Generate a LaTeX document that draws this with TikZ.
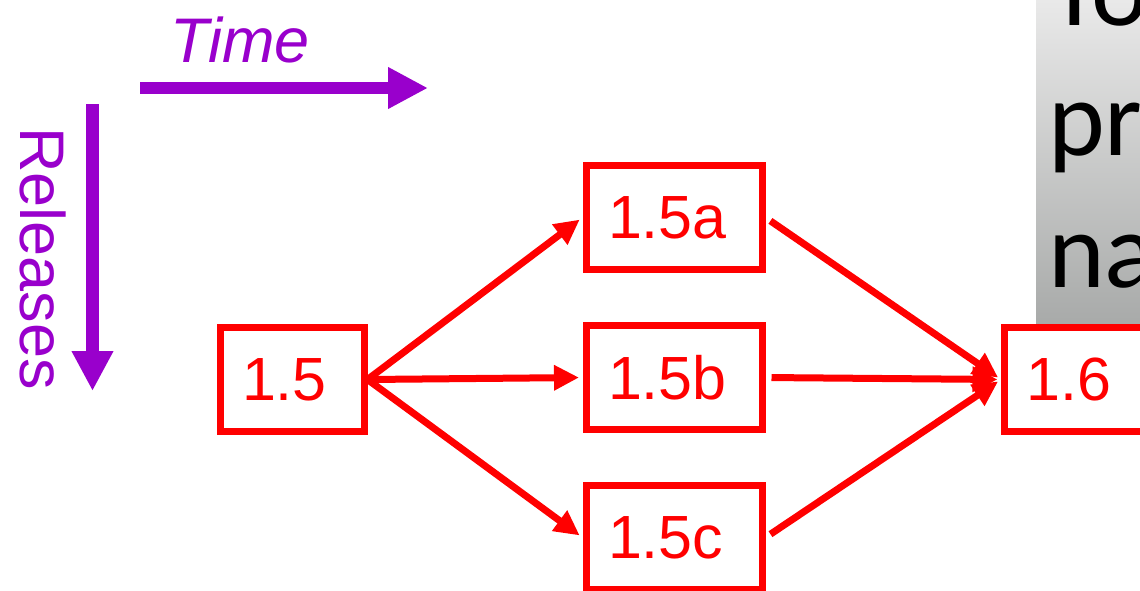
\documentclass[tikz,border=0pt]{standalone}
\usepackage{fontspec}
\setmainfont{Liberation Sans}
\newfontfamily\slidefont{Carlito}
\usetikzlibrary{arrows.meta}
\definecolor{relpurple}{HTML}{9900CC}
\definecolor{slidetop}{RGB}{233,233,233}
\definecolor{slidebot}{RGB}{167,169,168}

\begin{document}
\begin{tikzpicture}[x=1pt,y=-1pt,
  relbox/.style={draw=red,line width=7pt,text=red,inner xsep=22pt,inner ysep=0pt,
    minimum height=104pt,text width=#1,align=left,font=\fontsize{61}{61}\selectfont},
  relarrow/.style={red,line width=7pt,shorten >=3.5pt,-{Triangle[length=25pt,width=24pt]}},
  axis/.style={relpurple,line width=12.5pt,-{Triangle[length=40pt,width=39pt]}},
  axislabel/.style={relpurple,inner sep=0pt,anchor=base west,font=\fontsize{63}{63}\selectfont}]
  \useasboundingbox (0,0) rectangle (1140,590);
  \clip (0,0) rectangle (1140,590);
  % slide text behind
  \shade[top color=slidetop,bottom color=slidebot] (1036,0) rectangle (1140,330);
  \foreach \w/\y in {To/25,pr/155,na/287}
    \node[anchor=base west,inner sep=0pt,font=\slidefont\fontsize{108}{108}\selectfont] (txt-\w) at (1048,\y) {\w};
  % axes
  \coordinate (time-from) at (140,88);
  \coordinate (time-to) at (428,88);
  \coordinate (rel-from) at (92.5,104);
  \coordinate (rel-to) at (92.5,391);
  \draw[axis] (time-from) -- (time-to);
  \draw[axis] (rel-from) -- (rel-to);
  \node[axislabel,font={\itshape\fontsize{63}{63}\selectfont}] (time) at (170,62) {Time};
  \node[axislabel,rotate=-90] (releases) at (20,127) {Releases};
  % versions
  \node[relbox=100pt] (v15) at (292,379.5) {1.5};
  \node[relbox=132pt] (v15a) at (674,217.5) {1.5a};
  \node[relbox=132pt] (v15b) at (674,377.5) {1.5b};
  \node[relbox=132pt] (v15c) at (674,537.5) {1.5c};
  \node[relbox=100pt] (v16) at (1076.5,379.5) {1.6};
  \foreach \t in {v15a,v15b,v15c}
    \draw[relarrow] (v15.east) -- (\t.west);
  \foreach \s in {v15a,v15b,v15c}
    \draw[relarrow,shorten <=6pt] (\s.east) -- (v16.west);
\end{tikzpicture}
\end{document}
